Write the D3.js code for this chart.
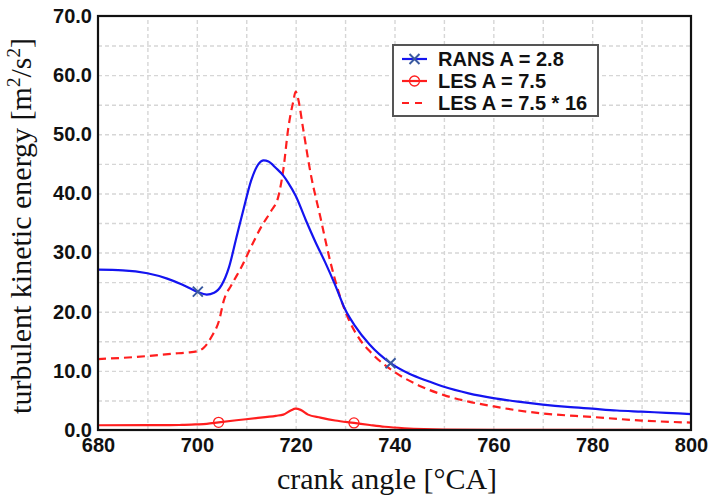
<!DOCTYPE html>
<html lang="en">
<head>
<meta charset="utf-8">
<title>turbulent kinetic energy vs crank angle</title>
<script src="https://d3js.org/d3.v7.min.js"></script>
<style>
  body { margin: 0; background: #fff; }
  svg { display: block; }
  .tick text { font-family: "Liberation Sans", Arial, sans-serif; font-weight: bold; font-size: 20px; fill: #111; }
  .grid line { stroke: #d6d6d6; stroke-width: 1.4; stroke-dasharray: 4 3; }
  .grid path { display: none; }
  .title { font-family: "Liberation Serif", "Times New Roman", serif; font-size: 30px; fill: #111; }
  .legend text { font-family: "Liberation Sans", Arial, sans-serif; font-weight: bold; font-size: 20px; fill: #111; }
</style>
</head>
<body>
<svg width="711" height="497"></svg>
<script>
// RANS A = 2.8
const ransAngle = [680, 685, 690, 694, 697, 700, 702, 703.5, 705, 706.5, 708, 709.5, 711, 712.5, 713.5, 714.5,
  716, 717.5, 718.5, 720, 722, 724, 726, 728, 730, 732, 735, 739.2, 743, 747, 750, 755, 760, 765, 770, 775, 780,
  785, 790, 795, 800];
const ransTke = [27.1, 27.0, 26.5, 25.6, 24.6, 23.4, 22.9, 23.2, 24.5, 27.5, 32.5, 37.5, 42.2, 45.0, 45.6, 45.4,
  44.3, 43.0, 41.8, 39.6, 35.6, 31.8, 28.3, 24.5, 20.4, 17.6, 14.4, 11.3, 9.5, 8.2, 7.3, 6.2, 5.4, 4.8, 4.3, 3.9, 3.6,
  3.3, 3.1, 2.9, 2.7];
const ransMarkAngle = [700.2, 739.2];
const ransMarkTke = [23.4, 11.3];

// LES A = 7.5
const lesAngle = [680, 690, 697, 700, 702, 704.4, 708, 712, 716, 717.5, 719, 720, 721, 722.5, 725, 728, 731.8,
  735, 738, 742, 746, 750, 760, 780, 800];
const lesTke = [0.80, 0.82, 0.85, 0.95, 1.05, 1.3, 1.65, 2.0, 2.4, 2.6, 3.3, 3.6, 3.4, 2.6, 2.1, 1.6, 1.2,
  0.85, 0.55, 0.3, 0.15, 0.08, 0.03, 0.01, 0.0];
const lesMarkAngle = [704.4, 731.8];
const lesMarkTke = [1.3, 1.2];

// LES A = 7.5 * 16
const les16Angle = [680, 685, 690, 695, 698, 700, 701.5, 703, 704.5, 705.5, 707, 709, 711, 713, 715, 716.5,
  717.5, 718.5, 719.5, 720, 720.5, 721.5, 723, 725, 727, 729, 731, 733, 735, 738, 740, 745, 750, 755, 760, 765,
  770, 780, 790, 800];
const les16Tke = [12.0, 12.2, 12.5, 12.9, 13.1, 13.3, 14.0, 15.8, 18.5, 22.0, 24.5, 27.5, 31.0, 34.3, 37.0, 39.5,
  44.0, 51.0, 55.5, 57.2, 56.0, 51.0, 43.5, 36.0, 28.5, 22.5, 18.2, 15.3, 13.3, 11.0, 9.8, 7.5, 5.9, 4.8, 4.0, 3.3,
  2.8, 2.2, 1.6, 1.25];

const xTicks = [680, 700, 720, 740, 760, 780, 800];
const yTicks = [0, 10, 20, 30, 40, 50, 60, 70];
const legendLabels = ["RANS A = 2.8", "LES A = 7.5", "LES A = 7.5 * 16"];

const blue = "#1414f0", red = "#ff1e1e", markBlue = "#3a5aa0";

const svg = d3.select("svg");
svg.append("rect").attr("width", 711).attr("height", 497).attr("fill", "#fff");

const pLeft = 98, pRight = 691, pTop = 16, pBottom = 430;
const x = d3.scaleLinear().domain([680, 800]).range([pLeft, pRight]);
const y = d3.scaleLinear().domain([0, 70]).range([pBottom, pTop]);

// grid
svg.append("g").attr("class", "grid")
  .attr("transform", `translate(0,${pBottom})`)
  .call(d3.axisBottom(x).tickValues(d3.range(690, 800, 10)).tickSize(-(pBottom - pTop)).tickFormat(""));
svg.append("g").attr("class", "grid")
  .attr("transform", `translate(${pLeft},0)`)
  .call(d3.axisLeft(y).tickValues(d3.range(5, 70, 5)).tickSize(-(pRight - pLeft)).tickFormat(""));

// axes labels
svg.append("g").attr("transform", `translate(0,${pBottom})`)
  .call(d3.axisBottom(x).tickValues(xTicks).tickSize(0).tickPadding(7.5).tickFormat(d3.format("d")))
  .call(g => g.select(".domain").remove());
svg.append("g").attr("transform", `translate(${pLeft},0)`)
  .call(d3.axisLeft(y).tickValues(yTicks).tickSize(0).tickPadding(6).tickFormat(d3.format(".1f")))
  .call(g => g.select(".domain").remove());

const line = (xs, ys) => d3.line().curve(d3.curveMonotoneX)
  .x((d, i) => x(xs[i])).y((d, i) => y(ys[i]))(xs);

const plot = svg.append("g");
plot.append("path").attr("d", line(lesAngle, lesTke))
  .attr("fill", "none").attr("stroke", red).attr("stroke-width", 2.2);
plot.append("path").attr("d", line(les16Angle, les16Tke))
  .attr("fill", "none").attr("stroke", red).attr("stroke-width", 2.2).attr("stroke-dasharray", "8 5");
plot.append("path").attr("d", line(ransAngle, ransTke))
  .attr("fill", "none").attr("stroke", blue).attr("stroke-width", 2.2);

const xMark = (g, cx, cy) => g.append("path")
  .attr("d", `M${cx - 5},${cy - 5}L${cx + 5},${cy + 5}M${cx - 5},${cy + 5}L${cx + 5},${cy - 5}`)
  .attr("stroke", markBlue).attr("stroke-width", 2).attr("fill", "none");
const oMark = (g, cx, cy) => g.append("circle").attr("cx", cx).attr("cy", cy).attr("r", 5)
  .attr("fill", "none").attr("stroke", red).attr("stroke-width", 1.3);

ransMarkAngle.forEach((a, i) => xMark(plot, x(a), y(ransMarkTke[i])));
lesMarkAngle.forEach((a, i) => oMark(plot, x(a), y(lesMarkTke[i])));

// frame
svg.append("rect").attr("x", pLeft).attr("y", pTop).attr("width", pRight - pLeft).attr("height", pBottom - pTop)
  .attr("fill", "none").attr("stroke", "#111").attr("stroke-width", 2.2);

// legend
const lg = svg.append("g").attr("class", "legend");
lg.append("rect").attr("x", 393).attr("y", 45).attr("width", 205).attr("height", 71)
  .attr("fill", "#fff").attr("stroke", "#555").attr("stroke-width", 2);
const rowY = i => 59 + i * 22;
lg.append("line").attr("x1", 402).attr("x2", 427).attr("y1", rowY(0)).attr("y2", rowY(0))
  .attr("stroke", blue).attr("stroke-width", 2.2);
xMark(lg, 414.5, rowY(0));
lg.append("line").attr("x1", 402).attr("x2", 427).attr("y1", rowY(1)).attr("y2", rowY(1))
  .attr("stroke", red).attr("stroke-width", 2.2);
oMark(lg, 414.5, rowY(1));
lg.append("line").attr("x1", 402).attr("x2", 427).attr("y1", rowY(2)).attr("y2", rowY(2))
  .attr("stroke", red).attr("stroke-width", 2.2).attr("stroke-dasharray", "7 6");
lg.selectAll("text.lab").data(legendLabels).join("text").attr("class", "lab")
  .attr("x", 438).attr("y", (d, i) => rowY(i)).attr("dy", "0.36em").text(d => d);

// titles
svg.append("text").attr("class", "title").attr("x", 387).attr("y", 489)
  .attr("text-anchor", "middle").text("crank angle [°CA]");
svg.append("text").attr("class", "title")
  .attr("transform", "translate(31,226) rotate(-90)").attr("text-anchor", "middle")
  .html('turbulent kinetic energy [m<tspan dy="-11" font-size="19">2</tspan><tspan dy="11">/s</tspan><tspan dy="-11" font-size="19">2</tspan><tspan dy="11">]</tspan>');
</script>
</body>
</html>
